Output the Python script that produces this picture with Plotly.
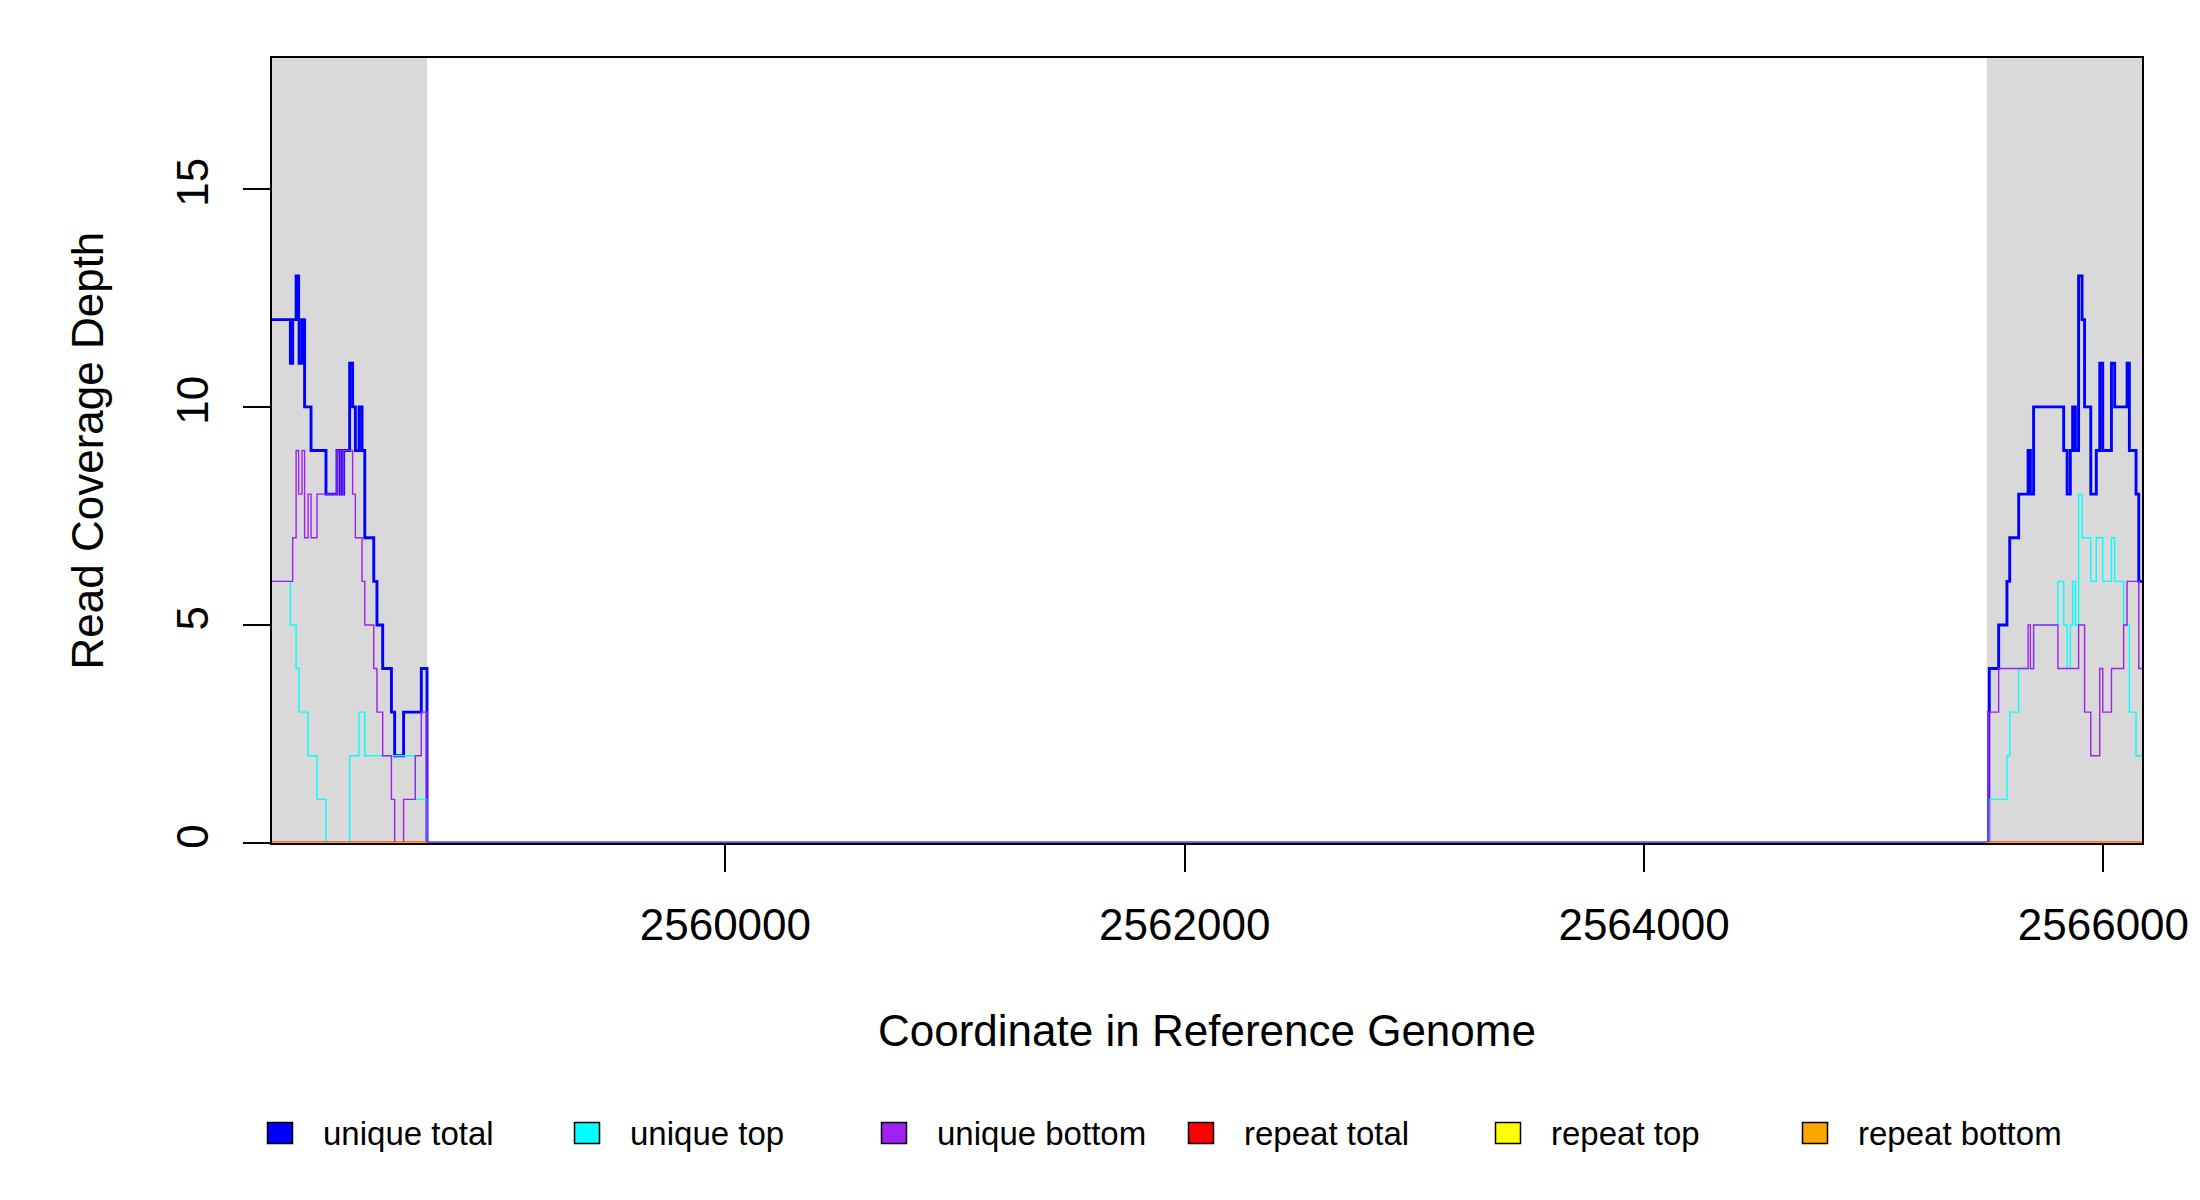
import plotly.graph_objects as go

# coverage steps (genome coordinate where a new depth starts, depth)
total_x = [2558026, 2558106, 2558116, 2558131, 2558142, 2558144, 2558157, 2558168,
           2558196, 2558261, 2558309, 2558324, 2558338, 2558364, 2558377, 2558389,
           2558405, 2558418, 2558430, 2558469, 2558483, 2558508, 2558546, 2558560,
           2558599, 2558676, 2558701,
           2565501, 2565503, 2565544, 2565580, 2565592, 2565631, 2565672, 2565682,
           2565696, 2565827, 2565842, 2565856, 2565866, 2565878, 2565892, 2565907,
           2565918, 2565945, 2565969, 2565984, 2565997, 2566035, 2566049, 2566103,
           2566113, 2566142, 2566154, 2566168]
total_y = [12, 11, 12, 13, 12, 11, 12, 10,
           9, 8, 9, 8, 9, 11, 10, 9,
           10, 9, 7, 6, 5, 4, 3, 2,
           3, 4, 0,
           3, 4, 5, 6, 7, 8, 9, 8,
           10, 9, 8, 9, 10, 9, 13, 12,
           10, 8, 9, 11, 9, 11, 10, 11,
           9, 8, 6, 6]

top_x = [2558026, 2558106, 2558131, 2558144, 2558183, 2558222, 2558261, 2558364,
         2558405, 2558430, 2558650, 2558701,
         2565503, 2565580, 2565592, 2565631, 2565696, 2565802, 2565827, 2565842,
         2565856, 2565866, 2565878, 2565892, 2565907, 2565945, 2565969, 2565997,
         2566035, 2566049, 2566088, 2566113, 2566142, 2566168]
top_y = [6, 5, 4, 3, 2, 1, 0, 2,
         3, 2, 1, 0,
         1, 2, 3, 4, 5, 6, 5, 4,
         5, 6, 5, 8, 7, 6, 7, 6,
         7, 6, 5, 3, 2, 2]

bottom_x = [2558026, 2558116, 2558131, 2558142, 2558157, 2558168, 2558183, 2558196,
            2558222, 2558309, 2558324, 2558338, 2558377, 2558389, 2558418, 2558430,
            2558469, 2558483, 2558508, 2558546, 2558560, 2558599, 2558650, 2558676,
            2558701,
            2565501, 2565544, 2565672, 2565682, 2565696, 2565802, 2565892, 2565918,
            2565945, 2565984, 2565997, 2566035, 2566088, 2566103, 2566154, 2566168]
bottom_y = [6, 7, 9, 8, 9, 7, 8, 7,
            8, 9, 8, 9, 8, 7, 6, 5,
            4, 3, 2, 1, 0, 1, 2, 3,
            0,
            3, 4, 5, 4, 5, 4, 5, 3,
            2, 4, 3, 4, 5, 6, 4, 4]

# repeat coverage only exists in the flanks, all zero
repeat_x = [2558026, 2558701, None, 2565492, 2566168]
repeat_y = [0, 0, None, 0, 0]

flanks = [(2558026, 2558701), (2565492, 2566168)]
x_range = [2558026, 2566168]
y_range = [0, 18]
x_ticks = [2560000, 2562000, 2564000, 2566000]
y_ticks = [0, 5, 10, 15]

names = ["unique total", "unique top", "unique bottom",
         "repeat total", "repeat top", "repeat bottom"]
colors = ["#0000FF", "#00FFFF", "#A020F0", "#FF0000", "#FFFF00", "#FFA500"]
widths = [2.9, 1.4, 1.4, 2.9, 1.4, 1.4]
series = [(total_x, total_y), (top_x, top_y), (bottom_x, bottom_y),
          (repeat_x, repeat_y), (repeat_x, repeat_y), (repeat_x, repeat_y)]

W, H = 2200, 1200
ML, MR, MT, MB = 272, 58, 58, 357
PW, PH = W - ML - MR, H - MT - MB
FONT = "Liberation Sans, Arial, sans-serif"


def px_x(px):
    return (px - ML) / PW


def px_y(py):
    return (H - MB - py) / PH


fig = go.Figure()

for (x0, x1) in flanks:
    fig.add_shape(type="rect", xref="x", yref="paper", x0=x0, x1=x1, y0=0, y1=1,
                  fillcolor="#D9D9D9", line_width=0, layer="below")

for (xs, ys), name, col, w in zip(series, names, colors, widths):
    fig.add_trace(go.Scatter(x=xs, y=ys, mode="lines", name=name, line_shape="hv",
                             line=dict(color=col, width=w), connectgaps=False,
                             showlegend=False, hoverinfo="x+y+name"))

# legend drawn like R's legend(fill=...) boxes
for i, (name, col) in enumerate(zip(names, colors)):
    cx, cy = 280 + 307 * i, 1133
    fig.add_shape(type="rect", xref="paper", yref="paper",
                  x0=px_x(cx - 12.5), x1=px_x(cx + 12.5),
                  y0=px_y(cy + 10.5), y1=px_y(cy - 10.5),
                  fillcolor=col, line=dict(color="black", width=1.5))
    fig.add_annotation(xref="paper", yref="paper", x=px_x(cx + 41), y=px_y(cy),
                       text=name, showarrow=False, xanchor="left", yanchor="middle",
                       font=dict(family=FONT, size=33, color="black"))

fig.add_annotation(xref="paper", yref="paper", x=0.5, y=px_y(1030),
                   text="Coordinate in Reference Genome", showarrow=False,
                   xanchor="center", yanchor="middle",
                   font=dict(family=FONT, size=44, color="black"))
fig.add_annotation(xref="paper", yref="paper", x=px_x(87), y=0.5,
                   text="Read Coverage Depth", showarrow=False, textangle=-90,
                   xanchor="center", yanchor="middle",
                   font=dict(family=FONT, size=44, color="black"))

fig.update_layout(width=W, height=H, margin=dict(l=ML, r=MR, t=MT, b=MB),
                  paper_bgcolor="white", plot_bgcolor="white",
                  font=dict(family=FONT, size=44, color="black"),
                  showlegend=False)
fig.update_xaxes(range=x_range, tickvals=x_ticks, ticktext=[str(v) for v in x_ticks],
                 ticks="outside", ticklen=27, tickwidth=2, tickcolor="black",
                 showline=True, mirror=True, linecolor="black", linewidth=2,
                 showgrid=False, zeroline=False, ticklabelstandoff=15,
                 tickfont=dict(family=FONT, size=44, color="black"))
fig.update_yaxes(range=y_range, tickvals=y_ticks, tickangle=-90,
                 ticks="outside", ticklen=27, tickwidth=2, tickcolor="black",
                 showline=True, mirror=True, linecolor="black", linewidth=2,
                 showgrid=False, zeroline=False, ticklabelstandoff=17,
                 tickfont=dict(family=FONT, size=44, color="black"))

fig.write_html("out.html", config={"displayModeBar": False})

with open("out.html") as f:
    page = f.read()
page = page.replace("<body>", "<body style=\"margin:0\">", 1)
with open("out.html", "w") as f:
    f.write(page)
